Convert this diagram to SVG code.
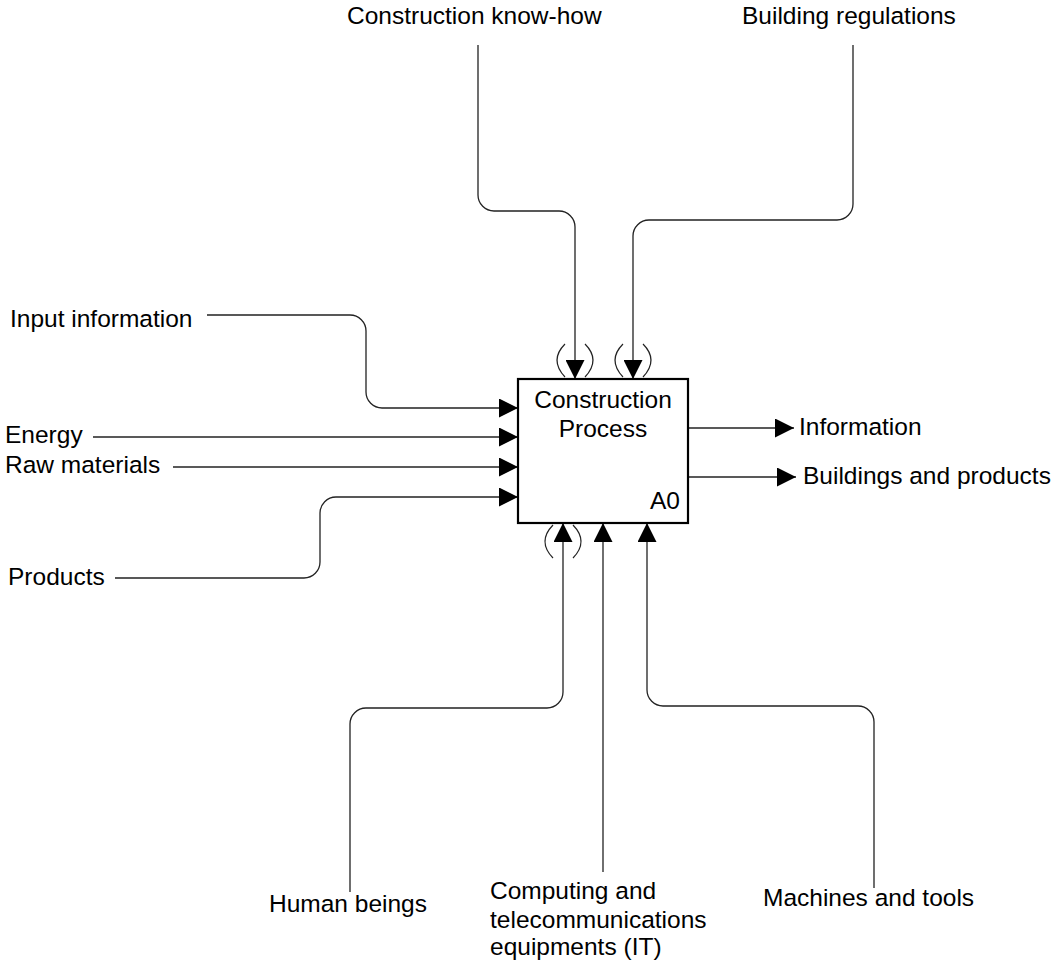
<svg xmlns="http://www.w3.org/2000/svg" width="1056" height="961" viewBox="0 0 1056 961">
  <style>
    .lbl { font-family: "Liberation Sans", Arial, sans-serif; font-size: 24.5px; fill: #000; }
    .conn { fill: none; stroke: #222; stroke-width: 1.3; }
    .tun { fill: none; stroke: #222; stroke-width: 1.2; }
    .box { fill: #fff; stroke: #000; stroke-width: 2.2; }
  </style>
  <defs>
    <marker id="arrow" viewBox="0 0 19 19" refX="19" refY="9.5" markerWidth="19" markerHeight="19" markerUnits="userSpaceOnUse" orient="auto">
      <path d="M0 0 L19 9.5 L0 19 Z" fill="#000"/>
    </marker>
  </defs>

  <rect width="1056" height="961" fill="#fff"/>

  <!-- connectors -->
  <g id="connectors">
    <!-- controls -->
    <path class="conn" d="M478 45 V195 A16 16 0 0 0 494 211 H559 A16 16 0 0 1 575 227 V379" marker-end="url(#arrow)"/>
    <path class="conn" d="M853 45 V204 A16 16 0 0 1 837 220 H649 A16 16 0 0 0 633 236 V379" marker-end="url(#arrow)"/>
    <!-- inputs -->
    <path class="conn" d="M207 315 H350 A16 16 0 0 1 366 331 V392 A16 16 0 0 0 382 408 H518" marker-end="url(#arrow)"/>
    <path class="conn" d="M93 437 H518" marker-end="url(#arrow)"/>
    <path class="conn" d="M173 467 H518" marker-end="url(#arrow)"/>
    <path class="conn" d="M115 578 H304 A16 16 0 0 0 320 562 V513 A16 16 0 0 1 336 497 H518" marker-end="url(#arrow)"/>
    <!-- outputs -->
    <path class="conn" d="M688 428 H794" marker-end="url(#arrow)"/>
    <path class="conn" d="M688 477 H796" marker-end="url(#arrow)"/>
    <!-- mechanisms -->
    <path class="conn" d="M350 892 V724 A16 16 0 0 1 366 708 H547 A16 16 0 0 0 563 692 V523" marker-end="url(#arrow)"/>
    <path class="conn" d="M603 872 V523" marker-end="url(#arrow)"/>
    <path class="conn" d="M874 888 V722 A16 16 0 0 0 858 706 H663 A16 16 0 0 1 647 690 V523" marker-end="url(#arrow)"/>
    <!-- tunnel brackets -->
    <path class="tun" d="M565 344 Q549 360 565 377 M585 344 Q601 360 585 377"/>
    <path class="tun" d="M623 344 Q607 360 623 377 M643 344 Q659 360 643 377"/>
    <path class="tun" d="M553 525 Q537 541.5 553 558 M573 525 Q589 541.5 573 558"/>
  </g>

  <!-- activity box -->
  <g id="node-a0">
    <rect class="box" x="518" y="379" width="170" height="144"/>
    <text class="lbl" x="603" y="408" text-anchor="middle">Construction</text>
    <text class="lbl" x="603" y="437" text-anchor="middle">Process</text>
    <text class="lbl" x="680" y="509" text-anchor="end">A0</text>
  </g>

  <!-- controls -->
  <g id="node-knowhow"><text class="lbl" x="347" y="24">Construction know-how</text></g>
  <g id="node-regulations"><text class="lbl" x="742" y="24">Building regulations</text></g>

  <!-- inputs -->
  <g id="node-input-info"><text class="lbl" x="10" y="327">Input information</text></g>
  <g id="node-energy"><text class="lbl" x="5" y="443">Energy</text></g>
  <g id="node-raw"><text class="lbl" x="5" y="473">Raw materials</text></g>
  <g id="node-products"><text class="lbl" x="8" y="585">Products</text></g>

  <!-- outputs -->
  <g id="node-information"><text class="lbl" x="799" y="435">Information</text></g>
  <g id="node-buildings"><text class="lbl" x="803" y="484">Buildings and products</text></g>

  <!-- mechanisms -->
  <g id="node-human"><text class="lbl" x="269" y="912">Human beings</text></g>
  <g id="node-it">
    <text class="lbl" x="490" y="899">Computing and</text>
    <text class="lbl" x="490" y="928">telecommunications</text>
    <text class="lbl" x="490" y="955">equipments (IT)</text>
  </g>
  <g id="node-machines"><text class="lbl" x="763" y="906">Machines and tools</text></g>
</svg>
